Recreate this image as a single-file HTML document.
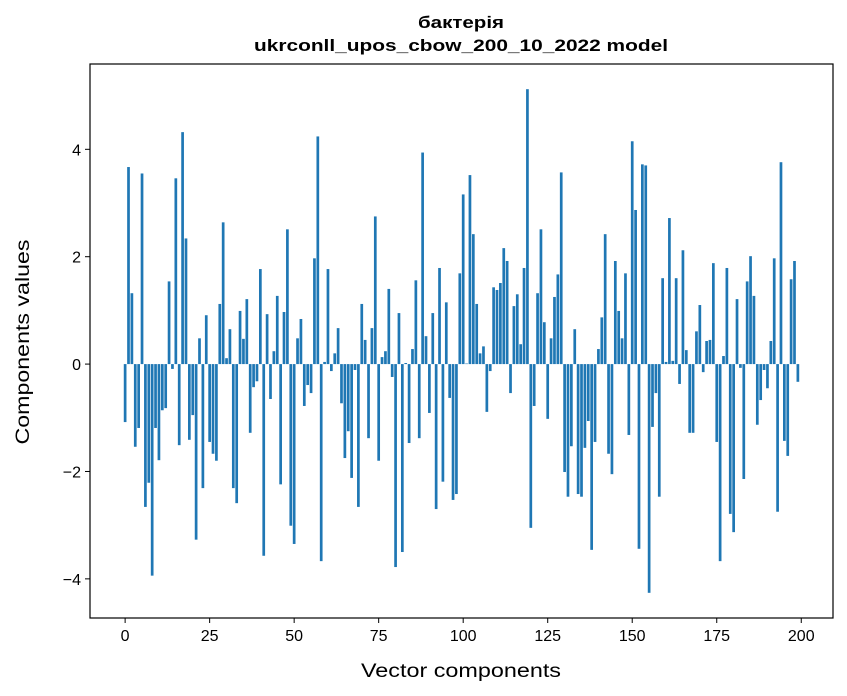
<!DOCTYPE html>
<html><head><meta charset="utf-8"><style>
html,body{margin:0;padding:0;background:#fff;}
svg{display:block;font-family:"Liberation Sans","DejaVu Sans",sans-serif;}
</style></head><body>
<svg id="chart" width="847" height="696" viewBox="0 0 847 696" xmlns="http://www.w3.org/2000/svg">
<rect width="847" height="696" fill="#fff"/>
<text x="461" y="28" text-anchor="middle" font-size="17" font-weight="bold" textLength="86" lengthAdjust="spacingAndGlyphs">бактерія</text>
<text x="461" y="51" text-anchor="middle" font-size="17" font-weight="bold" textLength="414" lengthAdjust="spacingAndGlyphs">ukrconll_upos_cbow_200_10_2022 model</text>
<g id="bars"></g>
<g id="axes"></g>
<rect x="90" y="64" width="743" height="554" fill="none" stroke="#000" stroke-width="1.2"/>
<text x="461" y="677" text-anchor="middle" font-size="19" textLength="200" lengthAdjust="spacingAndGlyphs">Vector components</text>
<text transform="translate(29,342) rotate(-90)" text-anchor="middle" font-size="19" textLength="205" lengthAdjust="spacingAndGlyphs">Components values</text>
</svg>
<script>
const values = [
-1.08,3.67,1.32,-1.54,-1.19,3.55,-2.66,-2.21,-3.94,-1.19,
-1.79,-0.86,-0.82,1.54,-0.09,3.46,-1.51,4.32,2.34,-1.41,
-0.95,-3.27,0.48,-2.31,0.91,-1.45,-1.67,-1.8,1.12,2.64,
0.11,0.65,-2.31,-2.59,0.99,0.47,1.21,-1.28,-0.43,-0.32,
1.77,-3.57,0.93,-0.65,0.24,1.27,-2.24,0.97,2.51,-3.01,
-3.35,0.48,0.84,-0.78,-0.39,-0.54,1.97,4.24,-3.67,0.04,
1.77,-0.13,0.2,0.67,-0.73,-1.75,-1.25,-2.12,-0.11,-2.66,
1.12,0.45,-1.38,0.67,2.75,-1.8,0.13,0.24,1.4,-0.24,
-3.78,0.95,-3.5,0.02,-1.47,0.28,1.56,-1.38,3.94,0.52,
-0.91,0.95,-2.7,1.79,-2.19,1.15,-0.63,-2.53,-2.42,1.69,
3.16,0.01,3.52,2.42,1.12,0.2,0.33,-0.89,-0.13,1.43,
1.38,1.51,2.16,1.92,-0.54,1.08,1.3,0.37,1.79,5.12,
-3.05,-0.78,1.32,2.51,0.78,-1.02,0.48,1.25,1.67,3.57,
-2.01,-2.47,-1.53,0.65,-2.42,-2.47,-1.56,-1.06,-3.46,-1.45,
0.28,0.87,2.42,-1.67,-2.05,1.92,0.99,0.48,1.69,-1.32,
4.15,2.87,-3.44,3.72,3.7,-4.26,-1.17,-0.54,-2.47,1.6,
0.04,2.72,0.06,1.6,-0.37,2.12,0.26,-1.28,-1.28,0.61,
1.1,-0.15,0.43,0.45,1.88,-1.45,-3.67,0.15,1.79,-2.79,
-3.13,1.21,-0.07,-2.14,1.54,2.01,1.27,-1.13,-0.67,-0.11,
-0.45,0.43,1.97,-2.75,3.76,-1.43,-1.71,1.58,1.92,-0.33
];
const xTicks = [0,25,50,75,100,125,150,175,200];
const yTicks = [-4,-2,0,2,4];

const NS = "http://www.w3.org/2000/svg";
const L = 90, R = 833, T = 64, B = 618;
const n = values.length;
const xMin = -0.4 - 0.05*(n-1+0.8), xMax = (n-1)+0.4 + 0.05*(n-1+0.8);
const vMax = Math.max(...values, 0), vMin = Math.min(...values, 0);
const pad = 0.05*(vMax - vMin);
const yMin = vMin - pad, yMax = vMax + pad;
function xs(v){ return L + (v - xMin)/(xMax - xMin)*(R - L); }
function ys(v){ return T + (yMax - v)/(yMax - yMin)*(B - T); }

const bars = document.getElementById('bars');
values.forEach((v,i)=>{
  const r = document.createElementNS(NS,'rect');
  const x0 = xs(i-0.4), x1 = xs(i+0.4);
  const y0 = ys(Math.max(v,0)), y1 = ys(Math.min(v,0));
  r.setAttribute('x', x0); r.setAttribute('width', x1-x0);
  r.setAttribute('y', y0); r.setAttribute('height', Math.max(y1-y0,0.01));
  r.setAttribute('fill','#1f77b4');
  
  
  bars.appendChild(r);
});
const axes = document.getElementById('axes');
xTicks.forEach(t=>{
  const x = xs(t);
  const ln = document.createElementNS(NS,'line');
  ln.setAttribute('x1',x); ln.setAttribute('x2',x); ln.setAttribute('y1',B); ln.setAttribute('y2',B+5);
  ln.setAttribute('stroke','#000'); ln.setAttribute('stroke-width','1');
  
  
  axes.appendChild(ln);
  const tx = document.createElementNS(NS,'text');
  tx.setAttribute('x',x); tx.setAttribute('y',B+23); tx.setAttribute('text-anchor','middle'); tx.setAttribute('font-size','16');
  tx.textContent = String(t);
  
  
  axes.appendChild(tx);
});
yTicks.forEach(t=>{
  const y = ys(t);
  const ln = document.createElementNS(NS,'line');
  ln.setAttribute('x1',L-5); ln.setAttribute('x2',L); ln.setAttribute('y1',y); ln.setAttribute('y2',y);
  ln.setAttribute('stroke','#000'); ln.setAttribute('stroke-width','1');
  
  
  axes.appendChild(ln);
  const tx = document.createElementNS(NS,'text');
  tx.setAttribute('x',L-9); tx.setAttribute('y',y+6); tx.setAttribute('text-anchor','end'); tx.setAttribute('font-size','16');
  tx.textContent = t < 0 ? '\u2212' + Math.abs(t) : String(t);
  
  
  axes.appendChild(tx);
});
</script>
</body></html>
